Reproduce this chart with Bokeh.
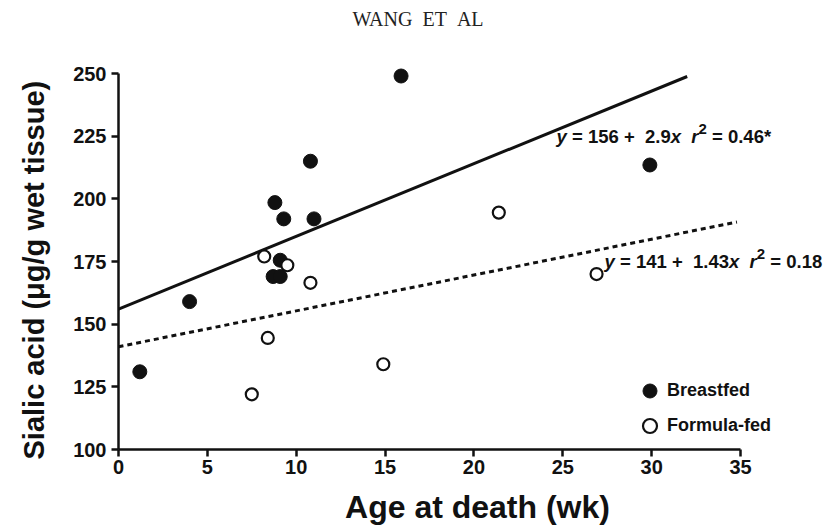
from bokeh.plotting import figure
from bokeh.layouts import column
from bokeh.models import Range1d, FixedTicker, Label, Legend, LegendItem, Div
from bokeh.embed import file_html
from bokeh.resources import INLINE

# Age at death (wk) vs. sialic acid (ug/g wet tissue)
breastfed_age = [1.2, 4.0, 8.7, 8.8, 9.1, 9.1, 9.3, 10.8, 11.0, 15.9, 29.9]
breastfed_sialic = [131, 159, 169, 198.5, 175.5, 169, 192, 215, 192, 249, 213.5]

formula_age = [7.5, 8.2, 8.4, 9.5, 10.8, 14.9, 21.4, 26.9]
formula_sialic = [122, 177, 144.5, 173.5, 166.5, 134, 194.5, 170]

# Linear fits
bf_intercept, bf_slope, bf_r2 = 156, 2.9, "0.46*"
ff_intercept, ff_slope, ff_r2 = 141, 1.43, "0.18"
bf_fit_x = [0, 32]
ff_fit_x = [0, 34.8]

x_ticks = [0, 5, 10, 15, 20, 25, 30, 35]
y_ticks = [100, 125, 150, 175, 200, 225, 250]
x_axis_span = (0, 35)
y_axis_span = (100, 250)

FONT = "Liberation Sans"
INK = "#111111"
NBSP = "\u00a0"

# Page header
HEADER_H = 35
header = Div(text="WANG&nbsp;&nbsp;ET&nbsp;&nbsp;AL", width=836, height=HEADER_H,
             margin=(0, 0, 0, 0),
             styles={"text-align": "center", "font-family": "Liberation Serif",
                     "font-size": "20px", "color": "#222222",
                     "padding-top": "5px", "box-sizing": "border-box",
                     "width": "836px"})

# The drawing area reaches past the axes (right edge of the page, a little
# above 250) so that markers, equations and legend are not clipped; the axes
# themselves stop at their spans.
W, H = 836, 531 - HEADER_H
LEFT, BOTTOM = 118, 82
AXIS_W, AXIS_H = 622, 376
PAD_TOP = 15
TOP = 73 - HEADER_H - PAD_TOP
x_end = x_axis_span[0] + (x_axis_span[1] - x_axis_span[0]) * (W - LEFT) / AXIS_W
y_end = y_axis_span[1] + (y_axis_span[1] - y_axis_span[0]) * PAD_TOP / AXIS_H

p = figure(width=W, height=H, output_backend="svg", toolbar_location=None,
           x_range=Range1d(x_axis_span[0], x_end),
           y_range=Range1d(y_axis_span[0], y_end),
           min_border_left=LEFT, min_border_right=0,
           min_border_top=TOP, min_border_bottom=BOTTOM, margin=(0, 0, 0, 0))
p.outline_line_color = None
p.xgrid.visible = False
p.ygrid.visible = False
p.background_fill_color = "white"
p.border_fill_color = "white"

p.xaxis.ticker = FixedTicker(ticks=x_ticks)
p.yaxis.ticker = FixedTicker(ticks=y_ticks)
p.xaxis.bounds = x_axis_span
p.yaxis.bounds = y_axis_span
p.xaxis.axis_label = "Age at death (wk)"
# trailing spaces keep the title centred on the 100-250 span of the axis
p.yaxis.axis_label = "Sialic acid (\u03bcg/g wet tissue)" + NBSP * 4

for ax in (p.xaxis, p.yaxis):
    ax.axis_line_width = 2.5
    ax.axis_line_color = INK
    ax.major_tick_line_width = 2.5
    ax.major_tick_line_color = INK
    ax.major_tick_out = 7
    ax.major_tick_in = 0
    ax.minor_tick_out = 0
    ax.minor_tick_in = 0
    ax.major_label_text_font = FONT
    ax.major_label_text_font_style = "bold"
    ax.major_label_text_font_size = "20px"
    ax.major_label_text_color = INK
    ax.major_label_standoff = 5
    ax.axis_label_text_font = FONT
    ax.axis_label_text_font_style = "bold"
    ax.axis_label_text_color = INK

p.xaxis.major_label_standoff = 3
p.xaxis.axis_label_text_font_size = "32px"
p.xaxis.axis_label_standoff = 12
p.yaxis.axis_label_text_font_size = "29px"
p.yaxis.axis_label_standoff = 20

# Regression lines
p.line(bf_fit_x, [bf_intercept + bf_slope * x for x in bf_fit_x],
       line_color=INK, line_width=3)
p.line(ff_fit_x, [ff_intercept + ff_slope * x for x in ff_fit_x],
       line_color=INK, line_width=3, line_dash="5 4")

# Data points
bf = p.scatter(breastfed_age, breastfed_sialic, marker="circle", size=14,
               fill_color=INK, line_color=INK, line_width=1)
ff = p.scatter(formula_age, formula_sialic, marker="circle", size=12,
               fill_color="white", line_color=INK, line_width=2.2)

legend = Legend(items=[LegendItem(label="Breastfed", renderers=[bf]),
                       LegendItem(label="Formula-fed", renderers=[ff])],
                location=(514, 6), orientation="vertical",
                glyph_width=35, glyph_height=35, label_height=35,
                label_standoff=0, spacing=0, padding=0, margin=0,
                border_line_color=None, background_fill_alpha=0,
                label_text_font=FONT, label_text_font_style="bold",
                label_text_font_size="18px", label_text_color=INK)
p.add_layout(legend)

# Fit equations, built from pieces so the variables can be italic
WIDTHS = {NBSP: .278, "=": .584, "+": .584, ".": .278, "*": .389,
          "x": .556, "y": .556, "r": .389}


def text_width(s, size):
    return sum(WIDTHS.get(ch, .556) for ch in s) * size


def equation(x, y, intercept, slope, r2, size=18.5):
    sp = NBSP
    parts = [("y", "bold italic", size, 0),
             (f"{sp}={sp}{intercept}{sp}+{sp}{sp}{slope}", "bold", size, 0),
             ("x", "bold italic", size, 0),
             (sp * 2, "bold", size, 0),
             ("r", "bold italic", size, 0),
             ("2", "bold", 15, 8),
             (f"{sp}={sp}{r2}", "bold", size, 0)]
    off = 0.0
    for txt, style, sz, dy in parts:
        p.add_layout(Label(x=x, y=y, x_offset=off, y_offset=dy, text=txt,
                           text_font=FONT, text_font_style=style,
                           text_font_size=f"{sz}px", text_color=INK,
                           text_baseline="alphabetic", text_align="left"))
        off += text_width(txt, sz)


equation(24.65, 224.8, bf_intercept, bf_slope, bf_r2)
equation(27.35, 175.0, ff_intercept, ff_slope, ff_r2)

layout = column(header, p, spacing=0, margin=(0, 0, 0, 0))
open("out.html", "w").write(file_html(layout, INLINE))
